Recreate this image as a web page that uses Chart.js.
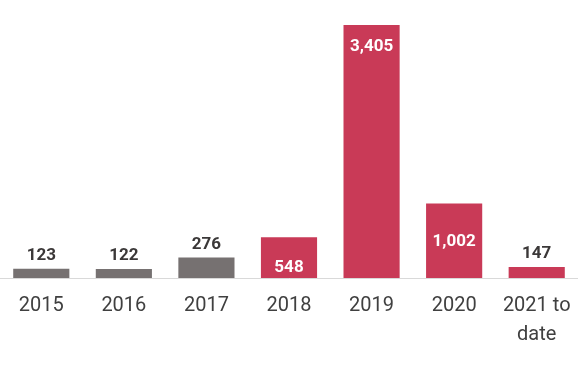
<!DOCTYPE html>
<html><head><meta charset="utf-8">
<script src="https://cdn.jsdelivr.net/npm/chart.js@4/dist/chart.umd.min.js"></script>
<style>html,body{margin:0;padding:0;background:#fff}#wrap{width:578px;height:392px}</style>
</head><body><div id="wrap"><canvas id="c"></canvas></div>
<script>
const categories = [["2015"],["2016"],["2017"],["2018"],["2019"],["2020"],["2021 to","date"]];
const values = [123,122,276,548,3405,1002,147];
const barColors = ["#767171","#767171","#767171","#C93A57","#C93A57","#C93A57","#C93A57"];

const valueLabels = {
  id:'valueLabels',
  afterDatasetsDraw(chart, args, opts){
    const ctx = chart.ctx;
    const meta = chart.getDatasetMeta(0);
    ctx.save();
    ctx.font = 'bold 17px Roboto';
    ctx.textAlign = 'center';
    ctx.textBaseline = 'middle';
    meta.data.forEach((bar, i) => {
      const v = values[i];
      const txt = v.toLocaleString('en-US');
      const inside = opts.inside[i];
      if (inside !== null) {
        ctx.fillStyle = '#ffffff';
        ctx.fillText(txt, bar.x, bar.y + inside);
      } else {
        ctx.fillStyle = '#3b3838';
        ctx.fillText(txt, bar.x, bar.y - 13);
      }
    });
    ctx.restore();
  }
};

new Chart(document.getElementById('c'), {
  type:'bar',
  data:{labels:categories, datasets:[{data:values, backgroundColor:barColors, barPercentage:0.68, categoryPercentage:1}]},
  options:{
    responsive:true, maintainAspectRatio:false, animation:false,
    layout:{padding:{left:0,right:0,top:0,bottom:38}},
    plugins:{legend:{display:false}, tooltip:{enabled:false},
      valueLabels:{inside:[null,null,null,30,22,38,null]}},
    scales:{
      x:{grid:{display:false, drawTicks:true, tickLength:8, tickColor:'rgba(0,0,0,0)'}, border:{color:'#d9d9d9', width:1},
         ticks:{color:'#404040', font:{family:'Roboto', size:20, lineHeight:1.45}, padding:5, maxRotation:0, autoSkip:false}},
      y:{display:false, min:0, max:3741}
    }
  },
  plugins:[valueLabels]
});
</script></body></html>
